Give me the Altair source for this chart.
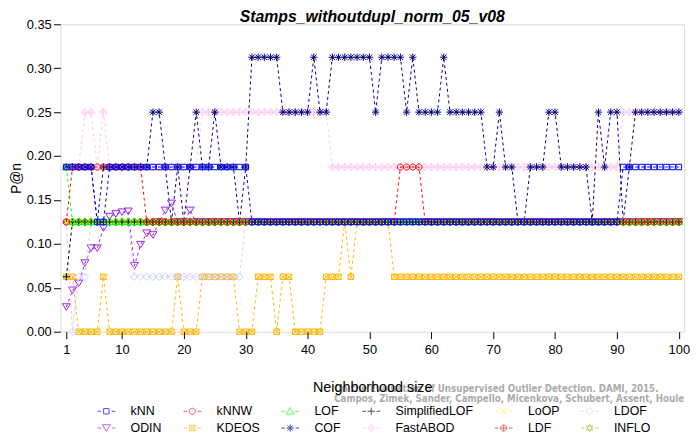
import altair as alt
import pandas as pd
import numpy as np

# ---------------- data ----------------
methods = ["kNN", "kNNW", "LOF", "SimplifiedLOF", "LoOP", "LDOF",
           "ODIN", "KDEOS", "COF", "FastABOD", "LDF", "INFLO"]
colors = ["#0000FF", "#FF0000", "#00FF00", "#000000", "#FFFF00", "#CCCCFF",
          "#A020F0", "#FFB400", "#000080", "#FFC8F0", "#C02828", "#9ACD32"]

neighborhood = list(range(1, 101))

knn = [0.1875, 0.1875, 0.1875, 0.1875, 0.1875, 0.125, 0.125, 0.1875, 0.1875, 0.1875,
       0.1875, 0.1875, 0.1875, 0.1875, 0.1875, 0.1875, 0.1875, 0.1875, 0.1875, 0.1875,
       0.1875, 0.1875, 0.1875, 0.1875, 0.1875, 0.1875, 0.1875, 0.1875, 0.1875, 0.1875,
       0.125, 0.125, 0.125, 0.125, 0.125, 0.125, 0.125, 0.125, 0.125, 0.125,
       0.125, 0.125, 0.125, 0.125, 0.125, 0.125, 0.125, 0.125, 0.125, 0.125,
       0.125, 0.125, 0.125, 0.125, 0.125, 0.125, 0.125, 0.125, 0.125, 0.125,
       0.125, 0.125, 0.125, 0.125, 0.125, 0.125, 0.125, 0.125, 0.125, 0.125,
       0.125, 0.125, 0.125, 0.125, 0.125, 0.125, 0.125, 0.125, 0.125, 0.125,
       0.125, 0.125, 0.125, 0.125, 0.125, 0.125, 0.125, 0.125, 0.125, 0.125,
       0.1875, 0.1875, 0.1875, 0.1875, 0.1875, 0.1875, 0.1875, 0.1875, 0.1875, 0.1875]

knnw = [0.125, 0.1875, 0.1875, 0.1875, 0.1875, 0.1875, 0.1875, 0.1875, 0.1875, 0.1875,
        0.1875, 0.1875, 0.1875, 0.125, 0.125, 0.125, 0.125, 0.125, 0.125, 0.125,
        0.125, 0.125, 0.125, 0.125, 0.125, 0.125, 0.125, 0.125, 0.125, 0.125,
        0.125, 0.125, 0.125, 0.125, 0.125, 0.125, 0.125, 0.125, 0.125, 0.125,
        0.125, 0.125, 0.125, 0.125, 0.125, 0.125, 0.125, 0.125, 0.125, 0.125,
        0.125, 0.125, 0.125, 0.125, 0.1875, 0.1875, 0.1875, 0.1875, 0.125, 0.125,
        0.125, 0.125, 0.125, 0.125, 0.125, 0.125, 0.125, 0.125, 0.125, 0.125,
        0.125, 0.125, 0.125, 0.125, 0.125, 0.125, 0.125, 0.125, 0.125, 0.125,
        0.125, 0.125, 0.125, 0.125, 0.125, 0.125, 0.125, 0.125, 0.125, 0.125,
        0.125, 0.125, 0.125, 0.125, 0.125, 0.125, 0.125, 0.125, 0.125, 0.125]

lof = [0.1875] + [0.125] * 99
simplified_lof = [0.0625] + [0.125] * 99
loop = [0.125] * 100

ldof = [0.125, 0.0, 0.0625, 0.0625, 0.125, 0.125, 0.125, 0.125, 0.125, 0.125,
        0.125, 0.0625, 0.0625, 0.0625, 0.0625, 0.0625, 0.0625, 0.0625, 0.0625, 0.0625,
        0.0625, 0.0625, 0.0625, 0.0625, 0.0625, 0.0625, 0.0625, 0.0625, 0.0625, 0.125,
        0.125, 0.125, 0.125, 0.125, 0.125, 0.125, 0.125, 0.125, 0.125, 0.125,
        0.125, 0.125, 0.125, 0.125, 0.125, 0.125, 0.125, 0.125, 0.125, 0.125,
        0.125, 0.125, 0.125, 0.125, 0.125, 0.125, 0.125, 0.125, 0.125, 0.125,
        0.125, 0.125, 0.125, 0.125, 0.125, 0.125, 0.125, 0.125, 0.125, 0.125,
        0.125, 0.125, 0.125, 0.125, 0.125, 0.125, 0.125, 0.125, 0.125, 0.125,
        0.125, 0.125, 0.125, 0.125, 0.125, 0.125, 0.125, 0.125, 0.125, 0.125,
        0.125, 0.125, 0.125, 0.125, 0.125, 0.125, 0.125, 0.125, 0.125, 0.125]

odin = [0.028, 0.047, 0.055, 0.078, 0.095, 0.095, 0.118, 0.131, 0.134, 0.136,
        0.137, 0.075, 0.099, 0.112, 0.110, 0.125, 0.138, 0.146, 0.125, 0.125,
        0.138, 0.125, 0.125, 0.125, 0.125, 0.125, 0.125, 0.125, 0.125, 0.125,
        0.125, 0.125, 0.125, 0.125, 0.125, 0.125, 0.125, 0.125, 0.125, 0.125,
        0.125, 0.125, 0.125, 0.125, 0.125, 0.125, 0.125, 0.125, 0.125, 0.125,
        0.125, 0.125, 0.125, 0.125, 0.125, 0.125, 0.125, 0.125, 0.125, 0.125,
        0.125, 0.125, 0.125, 0.125, 0.125, 0.125, 0.125, 0.125, 0.125, 0.125,
        0.125, 0.125, 0.125, 0.125, 0.125, 0.125, 0.125, 0.125, 0.125, 0.125,
        0.125, 0.125, 0.125, 0.125, 0.125, 0.125, 0.125, 0.125, 0.125, 0.125,
        0.125, 0.125, 0.125, 0.125, 0.125, 0.125, 0.125, 0.125, 0.125, 0.125]

kdeos = [0.0625, 0.0625, 0.0, 0.0, 0.0, 0.0, 0.0625, 0.0, 0.0, 0.0,
         0.0, 0.0, 0.0, 0.0, 0.0, 0.0, 0.0, 0.0, 0.0625, 0.0,
         0.0, 0.0, 0.0625, 0.0625, 0.0625, 0.0625, 0.0625, 0.0625, 0.0, 0.0,
         0.0, 0.0625, 0.0625, 0.0625, 0.0, 0.0625, 0.0625, 0.0, 0.0, 0.0,
         0.0, 0.0, 0.0625, 0.0625, 0.0625, 0.125, 0.0625, 0.125, 0.125, 0.125,
         0.125, 0.125, 0.125, 0.0625, 0.0625, 0.0625, 0.0625, 0.0625, 0.0625, 0.0625,
         0.0625, 0.0625, 0.0625, 0.0625, 0.0625, 0.0625, 0.0625, 0.0625, 0.0625, 0.0625,
         0.0625, 0.0625, 0.0625, 0.0625, 0.0625, 0.0625, 0.0625, 0.0625, 0.0625, 0.0625,
         0.0625, 0.0625, 0.0625, 0.0625, 0.0625, 0.0625, 0.0625, 0.0625, 0.0625, 0.0625,
         0.0625, 0.0625, 0.0625, 0.0625, 0.0625, 0.0625, 0.0625, 0.0625, 0.0625, 0.0625]

cof = [0.1875, 0.1875, 0.1875, 0.1875, 0.1875, 0.125, 0.1875, 0.1875, 0.1875, 0.1875,
       0.1875, 0.1875, 0.1875, 0.1875, 0.25, 0.25, 0.1875, 0.125, 0.1875, 0.125,
       0.1875, 0.25, 0.1875, 0.1875, 0.25, 0.1875, 0.1875, 0.1875, 0.125, 0.1875,
       0.3125, 0.3125, 0.3125, 0.3125, 0.3125, 0.25, 0.25, 0.25, 0.25, 0.25,
       0.3125, 0.25, 0.25, 0.3125, 0.3125, 0.3125, 0.3125, 0.3125, 0.3125, 0.3125,
       0.25, 0.3125, 0.3125, 0.3125, 0.3125, 0.25, 0.3125, 0.25, 0.25, 0.25,
       0.25, 0.3125, 0.25, 0.25, 0.25, 0.25, 0.25, 0.25, 0.1875, 0.1875,
       0.25, 0.1875, 0.1875, 0.125, 0.125, 0.1875, 0.1875, 0.1875, 0.25, 0.25,
       0.1875, 0.1875, 0.1875, 0.1875, 0.1875, 0.125, 0.25, 0.1875, 0.25, 0.25,
       0.125, 0.1875, 0.25, 0.25, 0.25, 0.25, 0.25, 0.25, 0.25, 0.25]

fastabod = [0.1875, 0.1875, 0.1875, 0.25, 0.25, 0.1875, 0.25, 0.1875, 0.1875, 0.1875,
            0.1875, 0.1875, 0.1875, 0.1875, 0.1875, 0.1875, 0.1875, 0.1875, 0.1875, 0.1875,
            0.1875, 0.1875, 0.25, 0.25, 0.25, 0.25, 0.25, 0.25, 0.25, 0.25,
            0.25, 0.25, 0.25, 0.25, 0.25, 0.25, 0.25, 0.25, 0.25, 0.25,
            0.25, 0.25, 0.25, 0.1875, 0.1875, 0.1875, 0.1875, 0.1875, 0.1875, 0.1875,
            0.1875, 0.1875, 0.1875, 0.1875, 0.1875, 0.1875, 0.1875, 0.1875, 0.1875, 0.1875,
            0.1875, 0.1875, 0.1875, 0.1875, 0.1875, 0.1875, 0.1875, 0.1875, 0.1875, 0.1875,
            0.1875, 0.1875, 0.1875, 0.1875, 0.1875, 0.1875, 0.1875, 0.1875, 0.1875, 0.1875,
            0.1875, 0.1875, 0.1875, 0.1875, 0.1875, 0.1875, 0.1875, 0.1875, 0.1875, 0.1875,
            0.25, 0.25, 0.25, 0.25, 0.25, 0.25, 0.25, 0.25, 0.25, 0.25]

ldf = [0.125] * 100
inflo = [0.125] * 100

x_ticks = [1, 10, 20, 30, 40, 50, 60, 70, 80, 90, 100]
y_ticks = [0.0, 0.05, 0.10, 0.15, 0.20, 0.25, 0.30, 0.35]

title_text = "Stamps_withoutdupl_norm_05_v08"
watermark_1 = "On the Evaluation of Unsupervised Outlier Detection. DAMI, 2015."
watermark_2 = "Campos, Zimek, Sander, Campello, Micenkova, Schubert, Assent, Houle"

series = [knn, knnw, lof, simplified_lof, loop, ldof, odin, kdeos, cof, fastabod, ldf, inflo]

# ---------------- marker glyphs (R pch 0..11 look-alikes) ----------------
ang = np.linspace(0, 2 * np.pi, 21)[:-1]
circ = [(0.95 * np.cos(a), 0.95 * np.sin(a)) for a in ang]
sq = [(-0.85, -0.85), (0.85, -0.85), (0.85, 0.85), (-0.85, 0.85)]
xx = [([(-0.85, -0.85), (0.85, 0.85)], False), ([(-0.85, 0.85), (0.85, -0.85)], False)]
pl = [([(-1.15, 0), (1.15, 0)], False), ([(0, -1.15), (0, 1.15)], False)]
dia = [(0, -1.15), (1.15, 0), (0, 1.15), (-1.15, 0)]
glyphs = [
    [(sq, True)],                                                   # kNN square
    [(circ, True)],                                                 # kNNW circle
    [([(0, -1.2), (1.2, 0.85), (-1.2, 0.85)], True)],               # LOF triangle up
    pl,                                                             # SimplifiedLOF plus
    xx,                                                             # LoOP cross
    [(dia, True)],                                                  # LDOF diamond
    [([(0, 1.0), (1.25, -1.05), (-1.25, -1.05)], True)],            # ODIN triangle down
    [(sq, True)] + xx,                                              # KDEOS square with x
    pl + xx,                                                        # COF asterisk
    [(dia, True)] + pl,                                             # FastABOD diamond plus
    [(circ, True), ([(-0.95, 0), (0.95, 0)], False), ([(0, -0.95), (0, 0.95)], False)],  # LDF
    [([(0, -1.2), (1.04, 0.6), (-1.04, 0.6)], True),
     ([(0, 1.2), (1.04, -0.6), (-1.04, -0.6)], True)],              # INFLO star
]


def to_path(parts, s=1.0):
    out = []
    for pts, closed in parts:
        out.append("M" + "L".join(f"{px * s:.3f},{py * s:.3f}" for px, py in pts) + ("Z" if closed else ""))
    return " ".join(out)


marker_paths = [to_path(g) for g in glyphs]
legend_paths = [to_path(g, 0.36) + " M-1,0L-0.6,0 M0.6,0L1,0" for g in glyphs]

rows = []
for m, vals in zip(methods, series):
    for k, v in zip(neighborhood, vals):
        rows.append({"method": m, "k": k, "v": v})
df = pd.DataFrame(rows)

FONT = "Liberation Sans"

x_enc = alt.X("k:Q",
              scale=alt.Scale(domain=[0.04, 100.85], nice=False, zero=False),
              axis=alt.Axis(values=x_ticks, title="Neighborhood size", grid=False, domain=False,
                            tickSize=7, tickColor="black", labelColor="black",
                            labelFont=FONT, labelFontSize=13, labelPadding=11.5,
                            labelBaseline="middle", labelFlush=False, labelOverlap=False,
                            titleFont=FONT, titleFontSize=14.5, titleFontWeight="normal",
                            titleColor="black", titleY=56, titleBaseline="middle", zindex=1))
y_enc = alt.Y("v:Q",
              scale=alt.Scale(domain=[0, 0.35], nice=False, zero=False),
              axis=alt.Axis(values=y_ticks, format=".2f", title="P@n", grid=False, domain=False,
                            tickSize=7, tickColor="black", labelColor="black",
                            labelFont=FONT, labelFontSize=13, labelPadding=2.3,
                            labelFlush=False, labelOverlap=False,
                            titleFont=FONT, titleFontSize=14, titleFontWeight="normal",
                            titleColor="black", titleX=-44, titleY=155.5, titleAngle=270,
                            titleAlign="center", titleBaseline="middle"))

base = alt.Chart(df)
layers = []
# R draws the last method first, so kNN ends on top
for m, c, p in reversed(list(zip(methods, colors, marker_paths))):
    sub = base.transform_filter(alt.datum.method == m)
    layers.append(sub.mark_line(color=c, strokeWidth=1, strokeDash=[3, 3]).encode(x=x_enc, y=y_enc))
    layers.append(sub.mark_point(shape=p, color=c, filled=False, size=42, strokeWidth=1,
                                 opacity=1).encode(x=x_enc, y=y_enc))

leg = alt.Legend(orient="none", legendX=37, legendY=382, direction="horizontal", columns=6,
                 title=None, symbolSize=324, symbolStrokeWidth=1, labelFont=FONT,
                 labelFontSize=12.5, labelColor="black", labelOffset=15, columnPadding=19,
                 rowPadding=1, padding=0, labelBaseline="middle")
legend_layer = base.transform_filter("datum.v > 1").mark_point(filled=False, clip=True).encode(
    x=x_enc, y=y_enc,
    color=alt.Color("method:N", scale=alt.Scale(domain=methods, range=colors), legend=leg),
    shape=alt.Shape("method:N", scale=alt.Scale(domain=methods, range=legend_paths), legend=leg),
)

wm_style = dict(align="left", baseline="middle", font="DejaVu Sans Condensed", fontWeight="bold",
                fontSize=9.8, color="#ababab")
wm1 = alt.Chart(pd.DataFrame({"t": [watermark_1]})).mark_text(**wm_style).encode(
    text="t:N", x=alt.value(277), y=alt.value(369))
wm2 = alt.Chart(pd.DataFrame({"t": [watermark_2]})).mark_text(**wm_style).encode(
    text="t:N", x=alt.value(277), y=alt.value(379))

title_layer = alt.Chart(pd.DataFrame({"t": [title_text]})).mark_text(
    font=FONT, fontSize=16, fontWeight="bold", fontStyle="italic", color="black",
    align="center", baseline="alphabetic").encode(
    text="t:N", x=alt.value(315.5), y=alt.value(-2.5))

chart = alt.layer(wm1, wm2, *layers, legend_layer, title_layer).properties(
    width=631, height=311,
    autosize=alt.AutoSizeParams(type="none"),
    padding={"left": 53, "top": 14, "right": 7, "bottom": 101},
).configure_view(stroke="black", strokeWidth=1).configure(background="white")

chart.save("out.html", embed_options={"renderer": "svg", "actions": False})
